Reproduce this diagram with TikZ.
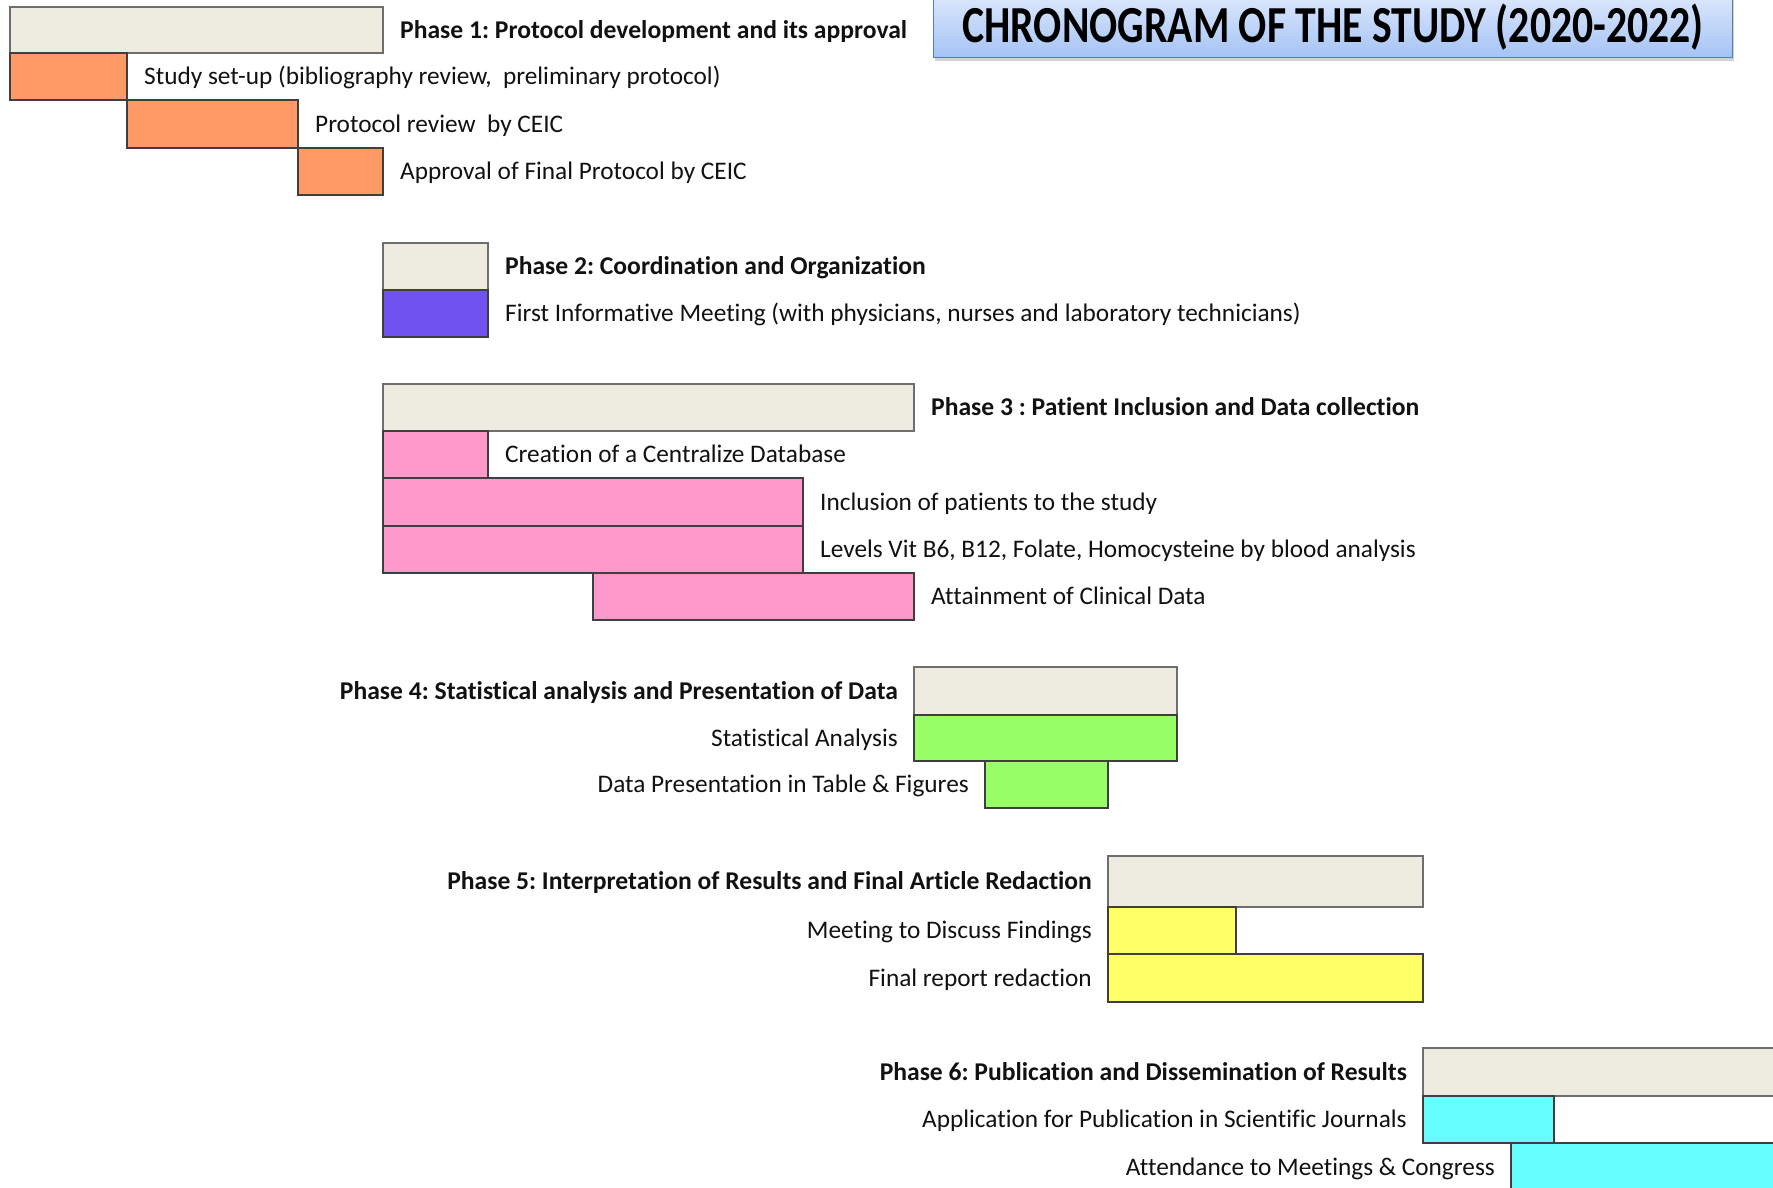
\documentclass[tikz,border=0pt]{standalone}
\usepackage{fontspec}
\setmainfont[Ligatures=NoCommon]{Carlito}
\newfontfamily\titlefont[FakeStretch=0.802]{Carlito}
\usetikzlibrary{shadows}
\frenchspacing

\definecolor{phasefill}{HTML}{EEEBE1}
\definecolor{barline}{HTML}{3F3F3F}
\definecolor{phaseline}{HTML}{6E6E6E}
\definecolor{orangebar}{HTML}{FF9966}
\definecolor{purplebar}{HTML}{7052F0}
\definecolor{pinkbar}{HTML}{FF99CC}
\definecolor{greenbar}{HTML}{99FF66}
\definecolor{yellowbar}{HTML}{FFFF66}
\definecolor{cyanbar}{HTML}{66FFFF}
\definecolor{titletop}{HTML}{DDE8FC}
\definecolor{titlebottom}{HTML}{A5C3F5}
\definecolor{titleline}{HTML}{4F7FC0}
\definecolor{ink}{HTML}{111111}

% one Gantt bar: name, left, top, right, bottom, fill colour, border colour
\newcommand\ganttbar[7]{%
  \node[ganttbox, fill=#6, draw=#7,
        minimum width=#4-#2, minimum height=#5-#3] (#1) at (#2,#3) {};}

\tikzset{
  ganttbox/.style={rectangle, line width=1.2pt, inner sep=0pt, outer sep=0pt,
                   anchor=north west},
  lbl/.style={inner sep=0pt, text=ink, text height=16.3pt, text depth=0pt,
              font=\fontsize{25.3}{30}\selectfont},
  rlbl/.style={lbl, anchor=west, xshift=17pt},
  llbl/.style={lbl, anchor=east, xshift=-16pt},
  phaselbl/.style={font=\fontsize{25.6}{30}\selectfont\bfseries},
}

\begin{document}
\begin{tikzpicture}[x=1pt, y=-1pt]
\useasboundingbox (0,0) rectangle (1773,1188);

% title banner
\node[rectangle, draw=titleline, line width=1.2pt,
      top color=titletop, bottom color=titlebottom,
      minimum width=799pt, minimum height=64pt, inner sep=0pt,
      text height=33.5pt, text depth=0pt, anchor=north west,
      drop shadow={shadow xshift=1.5pt, shadow yshift=-3.5pt, opacity=0.35},
      font=\titlefont\fontsize{52}{60}\selectfont\bfseries, text=black]
  (title) at (933,-7) {CHRONOGRAM OF THE STUDY (2020-2022)};

% Phase 1
\ganttbar{p1}{10}{7}{383}{53}{phasefill}{phaseline}
\ganttbar{t11}{10}{53}{127}{100}{orangebar}{barline}
\ganttbar{t12}{127}{100}{298}{148}{orangebar}{barline}
\ganttbar{t13}{298}{148}{383}{195}{orangebar}{barline}
\node[rlbl, phaselbl] (l1) at (p1.east) {Phase 1: Protocol development and its approval};
\node[rlbl] (l11) at (t11.east) {Study set-up (bibliography review,\ \ preliminary protocol)};
\node[rlbl] (l12) at (t12.east) {Protocol review\ \ by CEIC};
\node[rlbl] (l13) at (t13.east) {Approval of Final Protocol by CEIC};

% Phase 2
\ganttbar{p2}{383}{243}{488}{290}{phasefill}{phaseline}
\ganttbar{t21}{383}{290}{488}{337}{purplebar}{barline}
\node[rlbl, phaselbl] (l2) at (p2.east) {Phase 2: Coordination and Organization};
\node[rlbl] (l21) at (t21.east) {First Informative Meeting (with physicians, nurses and laboratory technicians)};

% Phase 3
\ganttbar{p3}{383}{384}{914}{431}{phasefill}{phaseline}
\ganttbar{t31}{383}{431}{488}{478}{pinkbar}{barline}
\ganttbar{t32}{383}{478}{803}{526}{pinkbar}{barline}
\ganttbar{t33}{383}{526}{803}{573}{pinkbar}{barline}
\ganttbar{t34}{593}{573}{914}{620}{pinkbar}{barline}
\node[rlbl, phaselbl] (l3) at (p3.east) {Phase 3 : Patient Inclusion and Data collection};
\node[rlbl] (l31) at (t31.east) {Creation of a Centralize Database};
\node[rlbl] (l32) at (t32.east) {Inclusion of patients to the study};
\node[rlbl] (l33) at (t33.east) {Levels Vit B6, B12, Folate, Homocysteine by blood analysis};
\node[rlbl] (l34) at (t34.east) {Attainment of Clinical Data};

% Phase 4
\ganttbar{p4}{914}{667}{1177}{715}{phasefill}{phaseline}
\ganttbar{t41}{914}{715}{1177}{761}{greenbar}{barline}
\ganttbar{t42}{985}{761}{1108}{808}{greenbar}{barline}
\node[llbl, phaselbl] (l4) at (p4.west) {Phase 4: Statistical analysis and Presentation of Data};
\node[llbl] (l41) at (t41.west) {Statistical Analysis};
\node[llbl] (l42) at (t42.west) {Data Presentation in Table \& Figures};

% Phase 5
\ganttbar{p5}{1108}{856}{1423}{907}{phasefill}{phaseline}
\ganttbar{t51}{1108}{907}{1236}{954}{yellowbar}{barline}
\ganttbar{t52}{1108}{954}{1423}{1002}{yellowbar}{barline}
\node[llbl, phaselbl] (l5) at (p5.west) {Phase 5: Interpretation of Results and Final Article Redaction};
\node[llbl] (l51) at (t51.west) {Meeting to Discuss Findings};
\node[llbl] (l52) at (t52.west) {Final report redaction};

% Phase 6
\ganttbar{p6}{1423}{1048}{1778}{1096}{phasefill}{phaseline}
\ganttbar{t61}{1423}{1096}{1554}{1143}{cyanbar}{barline}
\ganttbar{t62}{1511}{1143}{1778}{1191}{cyanbar}{barline}
\node[llbl, phaselbl] (l6) at (p6.west) {Phase 6: Publication and Dissemination of Results};
\node[llbl] (l61) at (t61.west) {Application for Publication in Scientific Journals};
\node[llbl] (l62) at (t62.west) {Attendance to Meetings \& Congress};
\end{tikzpicture}
\end{document}
